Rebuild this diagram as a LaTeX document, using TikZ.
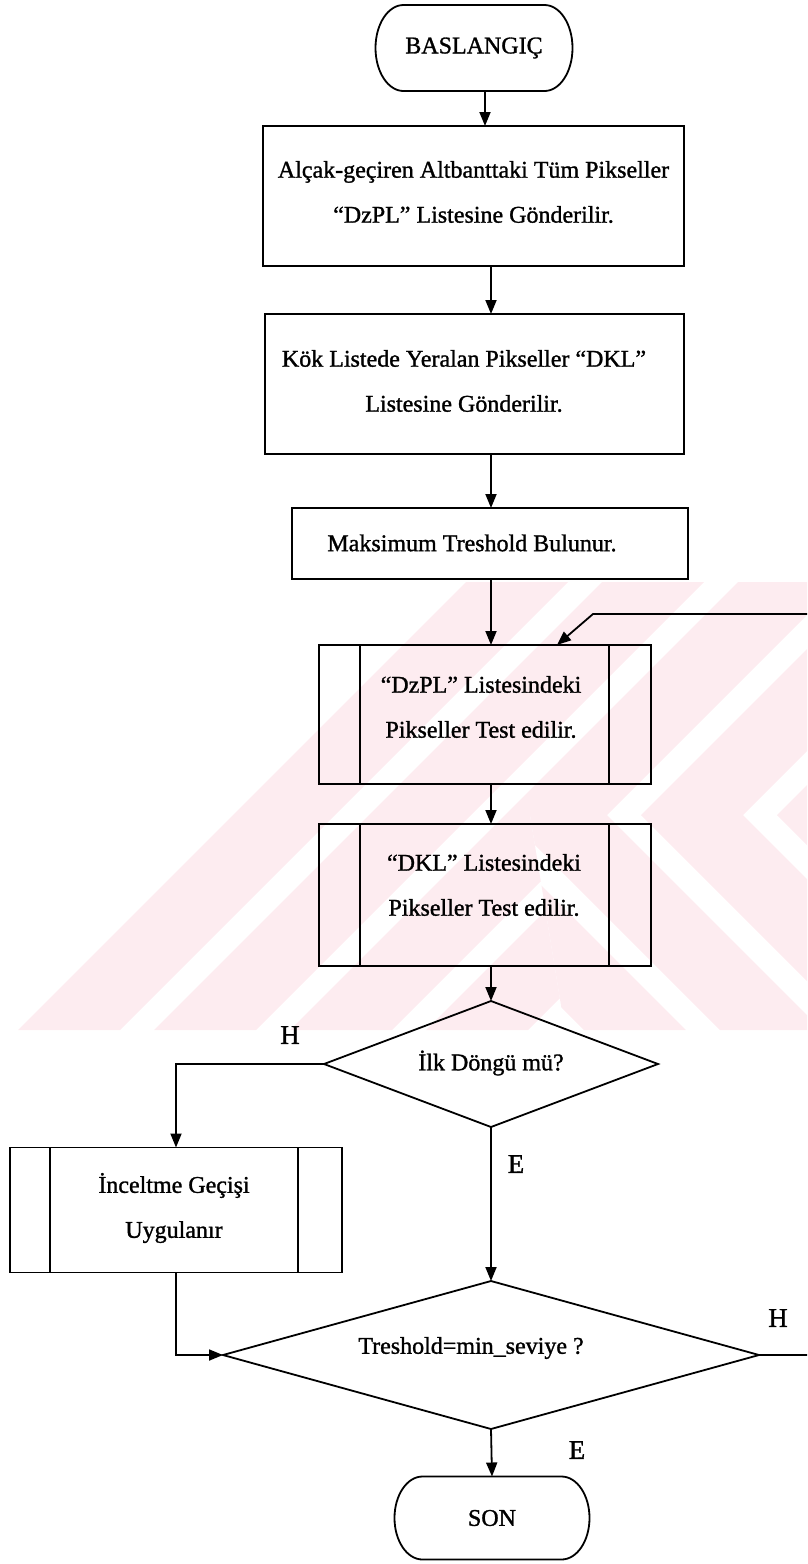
\documentclass[tikz,border=0pt]{standalone}
\usepackage{fontspec}
\usetikzlibrary{arrows.meta,shapes.geometric}
\newfontfamily\chartfont{Liberation Serif}[FakeBold=1.2]
\definecolor{wmpink}{RGB}{253,236,240}
% outline of a terminal (start/end) node: straight top and bottom, elliptic ends
\newcommand\termoutline[3]{%
  \draw ([xshift=#2]#1.north west) -- ([xshift=-#2]#1.north east)
    arc[start angle=90,end angle=-90,x radius=#2,y radius=#3]
    -- ([xshift=#2]#1.south west)
    arc[start angle=270,end angle=90,x radius=#2,y radius=#3] -- cycle;}
% inner side bars of a predefined-process box
\newcommand\sidebars[3]{%
  \draw ([xshift=#2]#1.north west) -- ([xshift=#2]#1.south west);
  \draw ([xshift=-#3]#1.north east) -- ([xshift=-#3]#1.south east);}
\begin{document}
\begin{tikzpicture}[x=1pt,y=-1pt,
  line width=1.8pt,
  >={Triangle[width=11pt,length=14pt]},
  every node/.style={font=\chartfont\fontsize{24}{45}\selectfont,inner sep=0pt,outer sep=0pt},
  procbox/.style={draw,rectangle},
  termbox/.style={draw=none,rectangle},
  decbox/.style={draw,diamond},
  txt/.style={align=center},
  lbl/.style={font=\chartfont\fontsize{27}{30}\selectfont}]
\useasboundingbox (0,0) rectangle (807,1564);
\clip (0,0) rectangle (807,1564);

% background stripes
\begin{scope}
  \clip (18,1030) -- (466,582) -- (807,582) -- (807,815) -- (530,815) -- (565,1030) -- cycle;
  \foreach \k in {0,...,7}
    \fill[wmpink] ({18+136*\k},1030) -- ({120+136*\k},1030) -- ({568+136*\k},582) -- ({466+136*\k},582) -- cycle;
\end{scope}
\begin{scope}
  \clip (530,815) -- (807,815) -- (807,1030) -- (565,1030) -- cycle;
  \foreach \k in {0,...,5}
    \fill[wmpink] ({233+136*\k},815) -- ({335+136*\k},815) -- ({550+136*\k},1030) -- ({448+136*\k},1030) -- cycle;
\end{scope}

% start
\node[termbox,minimum width=197pt,minimum height=86pt] (start) at (474,48) {BASLANGIÇ};
\termoutline{start}{28pt}{43pt}

% process boxes
\node[procbox,minimum width=421pt,minimum height=140pt] (b1) at (473.5,196) {};
\node[txt] (t1) at (473.5,192) {Alçak-geçiren Altbanttaki Tüm Pikseller\\“DzPL” Listesine Gönderilir.};

\node[procbox,minimum width=419pt,minimum height=140pt] (b2) at (474.5,384) {};
\node[txt] (t2) at (464,381) {Kök Listede Yeralan Pikseller “DKL”\\Listesine Gönderilir.};

\node[procbox,minimum width=396pt,minimum height=71pt] (b3) at (490,543.5) {};
\node[txt] (t3) at (472,543) {Maksimum Treshold Bulunur.};

\node[procbox,minimum width=332pt,minimum height=139pt] (b4) at (485,714.5) {};
\sidebars{b4}{41pt}{42pt}
\node[txt] (t4) at (481,707) {“DzPL” Listesindeki\\Pikseller Test edilir.};

\node[procbox,minimum width=332pt,minimum height=142pt] (b5) at (485,895) {};
\sidebars{b5}{41pt}{42pt}
\node[txt] (t5) at (484,885) {“DKL” Listesindeki\\Pikseller Test edilir.};

% first decision
\node[decbox,minimum width=334pt,minimum height=126pt] (d1) at (491,1064) {};
\node[txt] (td1) at (491,1063) {İlk Döngü mü?};

% refinement box
\node[procbox,minimum width=332pt,minimum height=125pt] (b6) at (176,1210) {};
\sidebars{b6}{40pt}{44pt}
\node[txt] (t6) at (174,1208) {İnceltme Geçişi\\Uygulanır};

% second decision
\node[decbox,minimum width=536pt,minimum height=148pt] (d2) at (491,1355) {};
\node[txt] (td2) at (471,1348) {Treshold=min\_seviye ?};

% end
\node[termbox,minimum width=195pt,minimum height=83pt] (son) at (492,1518) {SON};
\termoutline{son}{28pt}{41.5pt}

% branch labels
\node[lbl] (h1) at (290,1035) {H};
\node[lbl] (e1) at (516,1164) {E};
\node[lbl] (h2) at (778,1318) {H};
\node[lbl] (e2) at (577,1450) {E};

% connectors
\coordinate (c0) at (485,0);
\coordinate (col) at (491,0);
\coordinate (rc) at (815,0);
\coordinate (bend) at (593,614);
\coordinate (tip) at (557,0);
\draw[->] (start.south -| c0) -- (b1.north -| c0);
\draw[->] (b1.south -| col) -- (b2.north -| col);
\draw[->] (b2.south -| col) -- (b3.north -| col);
\draw[->] (b3.south -| col) -- (b4.north -| col);
\draw[->] (b4.south -| col) -- (b5.north -| col);
\draw[->] (b5.south -| col) -- (d1.north);
\draw[->] (d1.south) -- (d2.north);
\draw[->] (d2.south) -- (son.north);
\draw[->] (d1.west) -| (b6.north);
\draw[->] (b6.south) |- (d2.west);
\draw[->] (d2.east) -- (d2.east -| rc) -- (rc |- bend) -- (bend) -- (b4.north -| tip);
\end{tikzpicture}
\end{document}
